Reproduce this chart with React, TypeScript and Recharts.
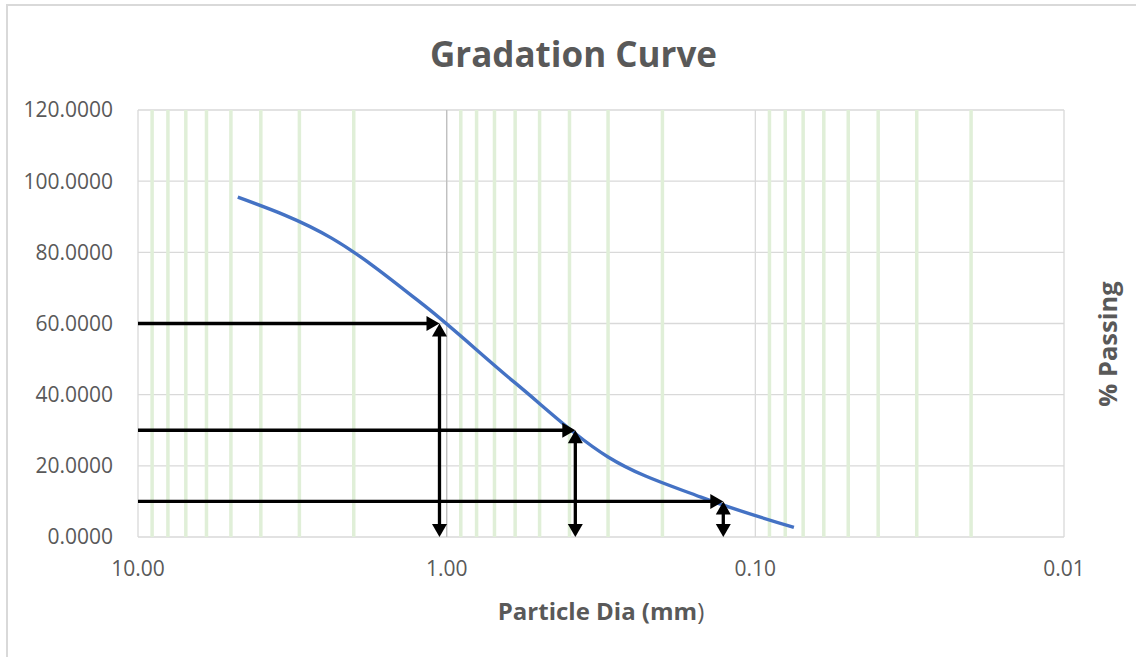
import React from 'react';
import { LineChart, Line, XAxis, YAxis, CartesianGrid, ReferenceLine } from 'recharts';

// ---- data ----
const sieveSizes = [4.75, 2.36, 1.18, 0.6, 0.3, 0.15, 0.075];
const percentPassing = [95.5, 84.0, 65.0, 43.3, 22.5, 11.2, 2.7];
const xTicks = [10, 1, 0.1, 0.01];
const yTicks = [0, 20, 40, 60, 80, 100, 120];
const minorGrid = [9, 8, 7, 6, 5, 4, 3, 2, 0.9, 0.8, 0.7, 0.6, 0.5, 0.4, 0.3, 0.2, 0.09, 0.08, 0.07, 0.06, 0.05, 0.04, 0.03, 0.02];
const dSizes = [1.055, 0.383, 0.127]; // D60, D30, D10
const dPercents = [60, 30, 10];

const data = sieveSizes.map((s, i) => ({ size: s, passing: percentPassing[i] }));

const FONT = '"Open Sans", "Noto Sans", sans-serif';
const TEXT = '#595959';

const makeArrow = (both: boolean) => (props: any) => {
  const { x1, y1, x2, y2 } = props;
  const dx = x2 - x1;
  const dy = y2 - y1;
  const len = Math.hypot(dx, dy) || 1;
  const ux = dx / len;
  const uy = dy / len;
  const px = -uy;
  const py = ux;
  const L = 13;
  const W = 7.5;
  const head = (tx: number, ty: number, ddx: number, ddy: number) =>
    `${tx},${ty} ${tx - ddx * L + px * W},${ty - ddy * L + py * W} ${tx - ddx * L - px * W},${ty - ddy * L - py * W}`;
  const sx = both ? x1 + ux * L * 0.8 : x1;
  const sy = both ? y1 + uy * L * 0.8 : y1;
  const ex = x2 - ux * L * 0.8;
  const ey = y2 - uy * L * 0.8;
  return (
    <g>
      <line x1={sx} y1={sy} x2={ex} y2={ey} stroke="#000" strokeWidth={3.3} />
      <polygon points={head(x2, y2, ux, uy)} fill="#000" />
      {both && <polygon points={head(x1, y1, -ux, -uy)} fill="#000" />}
    </g>
  );
};

const gridShape = (props: any) => {
  const { x1, y1, x2, y2 } = props;
  return <line x1={x1} y1={y1} x2={x2} y2={y2} stroke="#e0efd8" strokeWidth={3.5} />;
};

const XLabel = (props: any) => {
  const vb = props.viewBox || {};
  const cx = vb.x + vb.width / 2;
  return (
    <text x={cx} y={620} textAnchor="middle" fill={TEXT} fontFamily={FONT} fontSize={24} fontWeight={700}>
      Particle Dia (mm<tspan fontWeight={400}>)</tspan>
    </text>
  );
};

const RightLabel = () => {
  const x = 1107;
  const y = 344;
  return (
    <text x={x} y={y} transform={`rotate(-90, ${x}, ${y})`} textAnchor="middle" dominantBaseline="central"
      fill={TEXT} fontFamily={FONT} fontSize={25.5} fontWeight={700}>
      % Passing
    </text>
  );
};

export default function App() {
  return (
    <div style={{ position: 'fixed', left: 0, top: 0, width: 1136, height: 657, overflow: 'hidden', background: '#fff' }}>
      <div style={{ position: 'absolute', left: 6, top: 4, width: 1.5, height: 700, background: '#d9d9d9' }} />
      <div style={{ position: 'absolute', left: 6, top: 4, width: 1200, height: 1.5, background: '#d9d9d9' }} />
      <svg style={{ position: 'absolute', left: 0, top: 0 }} width={1136} height={90}>
        <text x={573.5} y={67} textAnchor="middle" fill={TEXT} fontFamily={FONT} fontSize={35} fontWeight={700}>
          Gradation Curve
        </text>
      </svg>
      <div style={{ position: 'absolute', left: 0, top: 0 }}>
        <LineChart width={1136} height={657} data={data} margin={{ top: 110, right: 0, bottom: 0, left: 0 }}>
          <CartesianGrid stroke="#d9d9d9" strokeWidth={1.3} />
          {minorGrid.map((v) => (
            <ReferenceLine key={v} x={v} ifOverflow="visible" zIndex={-50} shape={gridShape} />
          ))}
          <ReferenceLine x={1} stroke="#bfbfbf" strokeWidth={1.3} ifOverflow="visible" />
          <XAxis
            dataKey="size"
            type="number"
            scale="log"
            domain={[0.01, 10]}
            reversed
            ticks={xTicks}
            allowDataOverflow
            height={120}
            axisLine={false}
            tickLine={false}
            tickSize={0}
            tickMargin={24}
            tickFormatter={(v: number) => v.toFixed(2)}
            tick={{ fill: TEXT, fontFamily: FONT, fontSize: 21 }}
            label={<XLabel />}
          />
          <YAxis
            type="number"
            domain={[0, 120]}
            ticks={yTicks}
            width={138}
            axisLine={false}
            tickLine={false}
            tickSize={0}
            tickMargin={25}
            tickFormatter={(v: number) => v.toFixed(4)}
            tick={{ fill: TEXT, fontFamily: FONT, fontSize: 21 }}
          />
          <YAxis
            yAxisId="right"
            orientation="right"
            type="number"
            domain={[0, 120]}
            width={72}
            axisLine={false}
            tickLine={false}
            tick={false}
            label={<RightLabel />}
          />
          <Line
            type="monotone"
            dataKey="passing"
            stroke="#4472c4"
            strokeWidth={3.4}
            dot={false}
            isAnimationActive={false}
          />
          {dSizes.map((d, i) => (
            <ReferenceLine
              key={'h' + i}
              segment={[{ x: 10, y: dPercents[i] }, { x: d, y: dPercents[i] }]}
              ifOverflow="visible"
              shape={makeArrow(false)}
            />
          ))}
          {dSizes.map((d, i) => (
            <ReferenceLine
              key={'v' + i}
              segment={[{ x: d, y: 0 }, { x: d, y: dPercents[i] }]}
              ifOverflow="visible"
              shape={makeArrow(true)}
            />
          ))}
        </LineChart>
      </div>
    </div>
  );
}
